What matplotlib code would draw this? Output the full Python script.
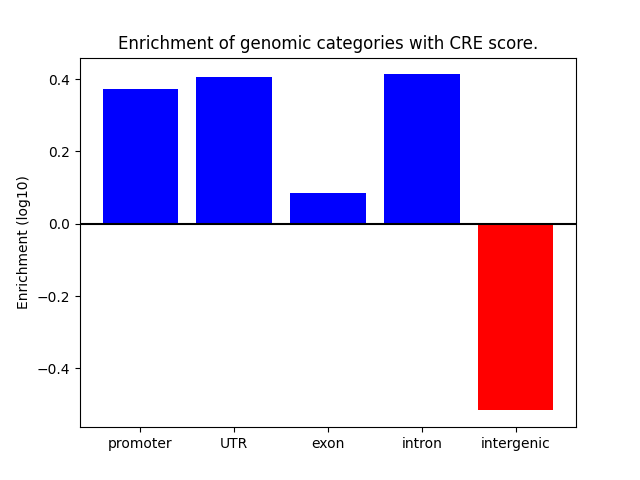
import matplotlib
matplotlib.use("Agg")
import matplotlib.pyplot as plt

# genomic categories and their log10 enrichment
categories = ["promoter", "UTR", "exon", "intron", "intergenic"]
enrichment = [0.372, 0.407, 0.085, 0.413, -0.516]

colors = ["blue" if v > 0 else "red" for v in enrichment]

fig, ax = plt.subplots(figsize=(6.4, 4.8), dpi=100)
ax.bar(categories, enrichment, color=colors)
ax.axhline(0, color="black")
ax.set_ylabel("Enrichment (log10)")
ax.set_title("Enrichment of genomic categories with CRE score.")

fig.savefig("out.png")
